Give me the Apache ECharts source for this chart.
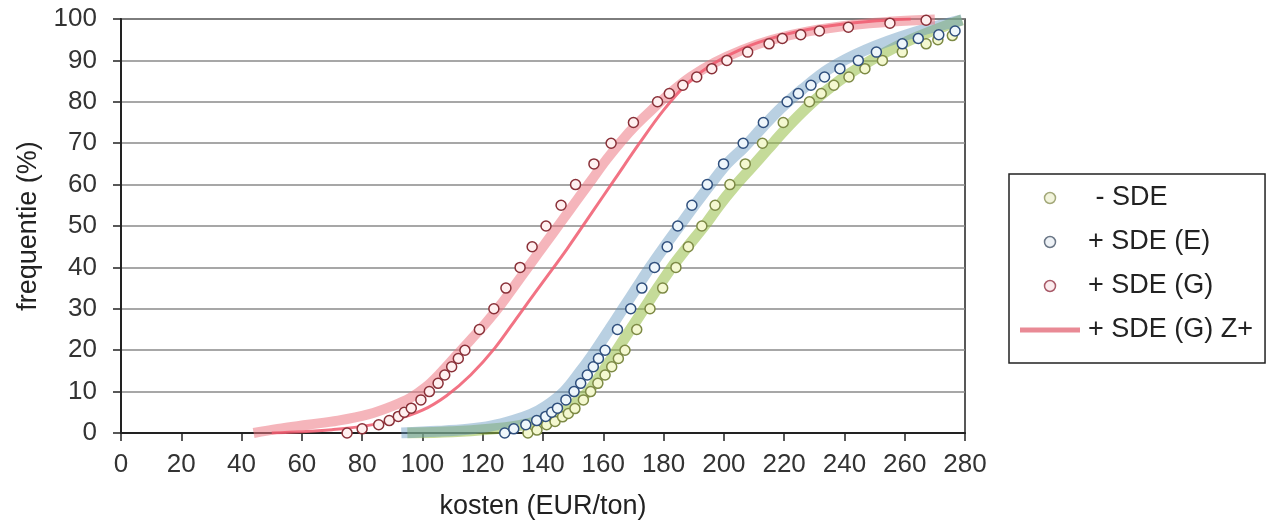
<!DOCTYPE html>
<html>
<head>
<meta charset="utf-8">
<script src="https://cdn.jsdelivr.net/npm/echarts@6/dist/echarts.min.js"></script>
<style>
html,body{margin:0;padding:0;background:#fff;}
#chart{width:1269px;height:523px;}
</style>
</head>
<body>
<div id="chart"></div>
<script>
// ---- data ----
var xTicks = [0,20,40,60,80,100,120,140,160,180,200,220,240,260,280];
var yTicks = [0,10,20,30,40,50,60,70,80,90,100];

// scatter: - SDE (green)
var minSdeX = [135,138,141.2,144,146.5,148.4,150.6,153.4,155.8,158.2,160.6,162.8,165,167.2,171.1,175.5,179.7,184.1,188.2,192.7,197.1,202,207.1,212.8,219.7,228.4,232.3,236.5,241.5,246.8,252.6,259.2,267.1,271,275.8];
var minSdeY = [0,0.7,2,2.8,3.9,4.7,5.9,8,10,12,14,16,18,20,25,30,35,40,45,50,55,60,65,70,75,80,82,84,86,88,90,92,94,95,96];

// scatter: + SDE (E) (blue)
var sdeEX = [127.3,130.3,134.3,137.9,140.9,142.9,144.8,147.6,150.3,152.5,154.7,156.7,158.4,160.6,164.7,169.1,172.8,177,181.2,184.7,189.4,194.5,199.9,206.4,213.1,221,224.7,228.9,233.4,238.5,244.6,250.6,259.2,264.5,271.3,276.7];
var sdeEY = [0,1,2,3,4,5,6,8,10,12,14,16,18,20,25,30,35,40,45,50,55,60,65,70,75,80,82,84,86,88,90,92,94,95.3,96.2,97.1];

// scatter: + SDE (G) (red)
var sdeGX = [75,80,85.5,89,92,94,96.3,99.5,102.3,105.2,107.4,109.7,111.9,114.1,118.9,123.7,127.7,132.4,136.4,141,146,150.8,156.9,162.6,170,178,181.9,186.4,191,196,201,207.9,215,219.4,225.5,231.7,241.3,255.1,267.1];
var sdeGY = [0,1,2,3,4,5,6,8,10,12,14,16,18,20,25,30,35,40,45,50,55,60,65,70,75,80,82,84,86,88,90,92,94,95.3,96.2,97.1,98,99,99.7];

// curves
var bandGZX = [44,52,62,72,82,90,96,101,106,111,116,121,126,131,136,141,146,151,156,161,166,171,176,182,189,197,206,216,228,242,256,270];
var bandGZY = [0,1,2,3,4.5,6.5,8.5,11,14.5,18.5,22.5,26.5,31,36,41,46,51,56,61,66,70.5,74.5,78,82,86,89.5,92.5,95,97,98.5,99.4,99.9];

var lineGX = [50,60,70,80,90,100,108,116,124,132,140,148,156,164,172,180,188,196,206,218,232,248,262];
var lineGY = [0,0.3,0.8,1.6,3,5.5,9,14,20.5,28.5,36.5,44.5,53,61.5,70,78,84.5,89,92.8,95.8,98,99.4,100];

var bandEX = [93,105,115,123,130,136,141,147,152,157,162,166.5,171,175.5,180.3,185.3,190.3,195.5,201,206.7,213,219,226,235,247,262,279];
var bandEY = [0,0.4,0.9,1.7,3,4.5,6.5,10,14.5,19.5,25,30,35,40,45,50,55,60,65,69,74,78.5,83,88,92.5,96.5,99.8];

var bandMX = [95,110,122,132,139,146,151,155,160,164.5,169,173.5,178,182.7,188,193.5,198.5,203.5,209,214.5,220,226,232,240,250,262,279];
var bandMY = [0,0.3,0.9,1.8,3,5,7.5,10,15,20,25,30,35,40,45,50,55,59.5,64,68.5,73,77.5,81.5,86,90.5,95,99.8];

function pairs(xs, ys){ var out=[]; for(var i=0;i<xs.length;i++){ out.push([xs[i], ys[i]]); } return out; }

var chart = echarts.init(document.getElementById('chart'), null, {renderer:'canvas'});
var FONT = '"Liberation Sans", Arial, sans-serif';

var option = {
  animation:false,
  backgroundColor:'#ffffff',
  grid:{left:121, right:304, top:19, bottom:90, containLabel:false, outerBoundsMode:'none',
    show:true, borderColor:'#222', borderWidth:1.5, backgroundColor:'transparent'},
  xAxis:{
    type:'value', min:0, max:280, interval:20,
    name:'kosten (EUR/ton)', nameLocation:'middle', nameGap:60,
    nameTextStyle:{fontFamily:FONT, fontSize:27, color:'#222', verticalAlign:'top'},
    axisLine:{show:true, lineStyle:{color:'#222', width:2}},
    axisTick:{show:true, length:8, lineStyle:{color:'#222', width:1.5}},
    axisLabel:{fontFamily:FONT, fontSize:26, color:'#333', margin:19,
      formatter:function(v){ return xTicks.indexOf(v)>=0 ? String(v) : ''; }},
    splitLine:{show:false}
  },
  yAxis:{
    type:'value', min:0, max:100, interval:10,
    name:'frequentie (%)', nameLocation:'middle', nameGap:79, nameRotate:90,
    nameTextStyle:{fontFamily:FONT, fontSize:27, color:'#222'},
    axisLine:{show:true, lineStyle:{color:'#222', width:2}},
    axisTick:{show:true, length:8, lineStyle:{color:'#222', width:1.5}},
    axisLabel:{fontFamily:FONT, fontSize:26, color:'#333', margin:24,
      formatter:function(v){ return yTicks.indexOf(v)>=0 ? String(v) : ''; }},
    splitLine:{show:true, lineStyle:{color:'#8a8a8a', width:1.5}}
  },
  legend:{
    orient:'vertical', left:1009, top:174,
    backgroundColor:'#fff', borderColor:'#222', borderWidth:1.5,
    padding:[9,12,18,11], itemGap:14, itemWidth:60, itemHeight:11,
    textStyle:{fontFamily:FONT, fontSize:27, color:'#222', lineHeight:30, padding:[0,0,0,3]},
    data:[
      {name:' - SDE', icon:'circle', itemStyle:{color:'#f2f4dc', borderColor:'#a3a87a', borderWidth:1.5}},
      {name:'+ SDE (E)', icon:'circle', itemStyle:{color:'#eef2f6', borderColor:'#6a7686', borderWidth:1.5}},
      {name:'+ SDE (G)', icon:'circle', itemStyle:{color:'#fbecee', borderColor:'#a85a68', borderWidth:1.5}},
      {name:'+ SDE (G) Z+', icon:'path://M0,0 H60 V5 H0 Z', itemStyle:{color:'#e98a95', borderWidth:0}}
    ]
  },
  series:[
    {name:'band-min', type:'line', data:pairs(bandMX, bandMY), smooth:0.35, showSymbol:false, silent:true,
      lineStyle:{color:'rgba(150,190,70,0.55)', width:11}, z:1},
    {name:'band-E', type:'line', data:pairs(bandEX, bandEY), smooth:0.35, showSymbol:false, silent:true,
      lineStyle:{color:'rgba(100,150,190,0.45)', width:11}, z:1},
    {name:'+ SDE (G) Z+', type:'line', data:pairs(bandGZX, bandGZY), smooth:0.35, showSymbol:false, silent:true,
      itemStyle:{color:'#e98a95'},
      lineStyle:{color:'rgba(236,120,132,0.55)', width:10}, z:1},
    {name:'line-G', type:'line', data:pairs(lineGX, lineGY), smooth:0.35, showSymbol:false, silent:true,
      lineStyle:{color:'rgba(240,90,110,0.85)', width:3}, z:2},
    {name:' - SDE', type:'scatter', data:pairs(minSdeX, minSdeY), symbol:'circle', symbolSize:10,
      itemStyle:{color:'#f4f8d0', borderColor:'#7d8a45', borderWidth:1.5, opacity:1}, z:3},
    {name:'+ SDE (E)', type:'scatter', data:pairs(sdeEX, sdeEY), symbol:'circle', symbolSize:10,
      itemStyle:{color:'#eef6fb', borderColor:'#2f4f7d', borderWidth:1.5, opacity:1}, z:4},
    {name:'+ SDE (G)', type:'scatter', data:pairs(sdeGX, sdeGY), symbol:'circle', symbolSize:10,
      itemStyle:{color:'#fff0f0', borderColor:'#8a3038', borderWidth:1.5, opacity:1}, z:5}
  ]
};
chart.setOption(option);
</script>
</body>
</html>
